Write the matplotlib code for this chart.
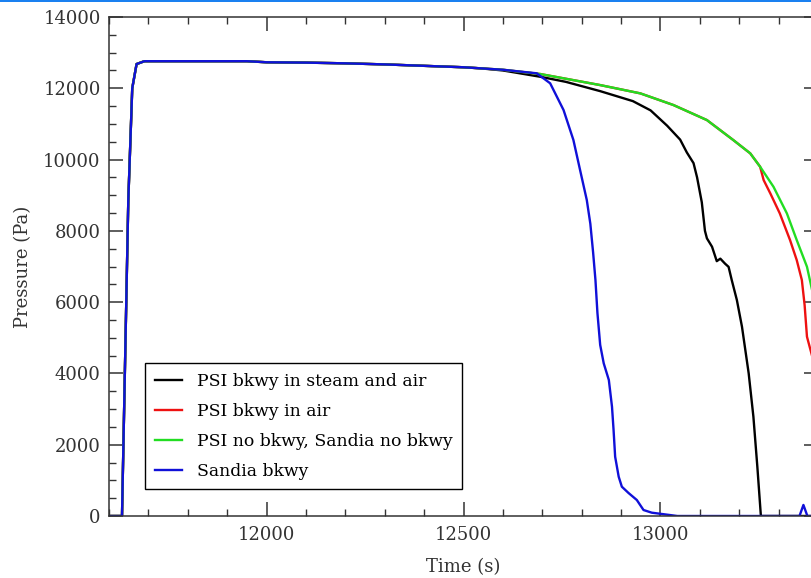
import numpy as np
import matplotlib
matplotlib.use('Agg')
import matplotlib.pyplot as plt
from matplotlib.ticker import MultipleLocator
from matplotlib.patches import Rectangle

plt.rcParams.update({
    'font.family': 'DejaVu Serif',
    'font.size': 13,
})

# shared rise + plateau before the runs separate
base_t = [11600, 11633, 11649, 11659, 11670, 11690, 11950, 12000, 12100, 12200,
          12300, 12400, 12500, 12543]
base_p = [0, 0, 8860, 12000, 12680, 12760, 12760, 12730, 12720, 12700,
          12670, 12630, 12590, 12560]

# PSI bkwy in steam and air
steam_t = [12600, 12695, 12760, 12847, 12930, 12975, 13017, 13050, 13067, 13084,
           13093, 13105, 13113, 13118, 13131, 13143, 13152, 13164, 13173, 13181,
           13194, 13207, 13224, 13236, 13246, 13255, 13400]
steam_p = [12500, 12323, 12180, 11920, 11640, 11380, 10950, 10560, 10200, 9900,
           9500, 8800, 8000, 7790, 7554, 7150, 7220, 7080, 6990, 6620,
           6060, 5310, 4003, 2785, 1383, 0, 0]

# PSI no bkwy, Sandia no bkwy
nobk_t = [12600, 12695, 12847, 12949, 13033, 13118, 13185, 13228, 13253, 13287,
          13321, 13346, 13372, 13385, 13400]
nobk_p = [12520, 12400, 12090, 11857, 11530, 11108, 10547, 10174, 9800, 9237,
          8490, 7742, 6993, 6340, 5900]

# PSI bkwy in air (leaves the no-bkwy curve at ~13253 s)
air_t = [12600, 12695, 12847, 12949, 13033, 13118, 13185, 13228, 13253, 13262,
         13279, 13303, 13329, 13346, 13359, 13366, 13372, 13386, 13400]
air_p = [12520, 12400, 12090, 11857, 11530, 11108, 10547, 10174, 9800, 9425,
         9050, 8490, 7742, 7180, 6620, 5920, 5030, 4450, 3900]

# Sandia bkwy
sandia_t = [12600, 12686, 12720, 12754, 12779, 12796, 12813, 12822, 12829, 12835,
            12840, 12847, 12856, 12869, 12877, 12881, 12885, 12894, 12902, 12919,
            12940, 12957, 12978, 13043, 13353, 13363, 13373, 13400]
sandia_p = [12520, 12420, 12140, 11390, 10550, 9705, 8865, 8200, 7400, 6620,
            5700, 4800, 4283, 3815, 3066, 2412, 1663, 1102, 822, 645,
            449, 168, 93, 0, 0, 310, 0, 0]

series = [
    ('PSI bkwy in steam and air', steam_t, steam_p, '#000000'),
    ('PSI bkwy in air', air_t, air_p, '#ee1111'),
    ('PSI no bkwy, Sandia no bkwy', nobk_t, nobk_p, '#22dd22'),
    ('Sandia bkwy', sandia_t, sandia_p, '#1010d8'),
]

fig = plt.figure(figsize=(8.12, 5.78), dpi=100)
ax = fig.add_axes([109/812, 62/578, 709/812, 499/578])

for label, t, p, c in series:
    ax.plot(base_t + t, base_p + p, color=c, lw=1.7, label=label)

ax.set_xlim(11600, 13400)
ax.set_ylim(0, 14000)
ax.xaxis.set_major_locator(MultipleLocator(500))
ax.xaxis.set_minor_locator(MultipleLocator(100))
ax.yaxis.set_major_locator(MultipleLocator(2000))
ax.yaxis.set_minor_locator(MultipleLocator(500))
ax.tick_params(which='both', direction='in', top=True, right=True,
               color='#333333', labelcolor='#333333')
ax.tick_params(which='major', length=10, width=1.1)
ax.tick_params(which='minor', length=5, width=1.0)
ax.tick_params(axis='y', pad=6)
ax.tick_params(axis='x', pad=7)
for s in ax.spines.values():
    s.set_color('#333333')
    s.set_linewidth(1.1)

ax.set_xlabel('Time (s)', color='#333333', labelpad=10)
ax.set_ylabel('Pressure (Pa)', color='#333333', labelpad=8)

leg = ax.legend(loc='lower left', bbox_to_anchor=(0.051, 0.054), fontsize=12.4,
                fancybox=False, framealpha=1, edgecolor='#000000',
                handlelength=1.6, labelspacing=0.75, borderpad=0.55,
                handletextpad=0.85, borderaxespad=0)
leg.get_frame().set_linewidth(1.0)

# thin blue strip along the top of the canvas
fig.add_artist(Rectangle((0, 1 - 2/578), 1, 2/578, transform=fig.transFigure,
                         color='#1a80f0', lw=0))

fig.savefig('out.png', dpi=100)
